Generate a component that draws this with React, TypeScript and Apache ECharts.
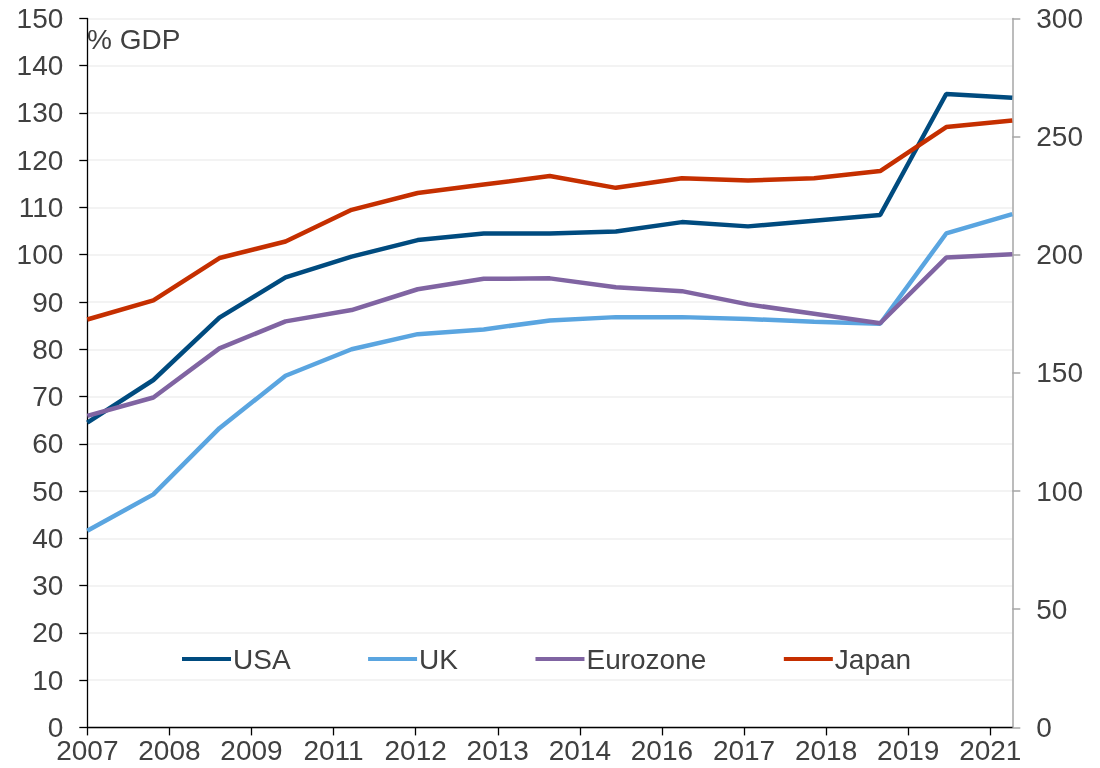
import React, { useEffect, useRef } from "react";
import * as echarts from "echarts";

const years = ["2007", "2008", "2009", "2010", "2011", "2012", "2013", "2014", "2015", "2016", "2017", "2018", "2019", "2020", "2021"];
const tickLabels = ["2007", "2008", "2009", "2011", "2012", "2013", "2014", "2016", "2017", "2018", "2019", "2021"];
const usa = [64.5, 73.5, 86.7, 95.2, 99.6, 103.1, 104.5, 104.5, 104.9, 106.9, 106.0, 107.2, 108.4, 134.0, 133.2];
const uk = [41.6, 49.3, 63.3, 74.4, 80.0, 83.2, 84.2, 86.1, 86.8, 86.8, 86.4, 85.8, 85.4, 104.5, 108.6];
const eurozone = [65.9, 69.8, 80.2, 85.9, 88.3, 92.7, 94.9, 95.0, 93.1, 92.3, 89.5, 87.5, 85.5, 99.4, 100.1];
const japan = [172.6, 180.7, 198.6, 205.6, 219.0, 226.1, 229.7, 233.3, 228.3, 232.4, 231.4, 232.4, 235.4, 254.0, 256.8];

const FONT = "'Liberation Sans', Arial, sans-serif";
const TXT = "#404040";
const FS = 28;

export default function App() {
  const ref = useRef<HTMLDivElement>(null);
  useEffect(() => {
    if (!ref.current) return;
    const chart = echarts.init(ref.current, null, { renderer: "svg" });
    const tickIdx = tickLabels.map((_, i) => i);
    const xMax = 925 / 82.09;
    chart.setOption({
      animation: false,
      textStyle: { fontFamily: FONT },
      grid: { left: 87.3, right: 87.7, top: 18.4, bottom: 40.6, containLabel: false },
      legend: {
        left: 182,
        top: 645,
        padding: 0,
        itemWidth: 49,
        itemHeight: 4,
        itemGap: 77.5,
        icon: "rect",
        textStyle: { fontSize: FS, color: TXT, fontFamily: FONT, padding: [0, 0, 0, -3] },
        data: ["USA", "UK", "Eurozone", "Japan"],
      },
      graphic: [
        {
          type: "text",
          left: 87,
          top: 25,
          style: { text: "% GDP", fontSize: FS, fill: TXT, fontFamily: FONT },
        },
      ],
      xAxis: [
        {
          type: "category",
          data: years,
          boundaryGap: false,
          show: false,
        },
        {
          type: "value",
          position: "bottom",
          min: 0,
          max: xMax,
          interval: 1,
          axisLine: { show: true, lineStyle: { color: "#000", width: 1.3 } },
          axisTick: { show: true, length: 8, lineStyle: { color: "#000", width: 1.3 }, customValues: tickIdx },
          axisLabel: {
            margin: 9,
            fontSize: FS,
            color: TXT,
            fontFamily: FONT,
            customValues: tickIdx,
            formatter: (v: number) => tickLabels[Math.round(v)] ?? "",
          },
          splitLine: { show: false },
        },
      ],
      yAxis: [
        {
          type: "value",
          position: "left",
          min: 0,
          max: 150,
          interval: 10,
          axisLine: { show: true, lineStyle: { color: "#000", width: 1.3 } },
          axisTick: { show: true, length: 8, lineStyle: { color: "#000", width: 1.3 } },
          axisLabel: { margin: 24, fontSize: FS, color: TXT, fontFamily: FONT },
          splitLine: { show: true, lineStyle: { color: "#efefef", width: 1.5 } },
        },
        {
          type: "value",
          position: "right",
          min: 0,
          max: 300,
          interval: 50,
          axisLine: { show: true, lineStyle: { color: "#a6a6a6", width: 1.5 } },
          axisTick: { show: true, length: 8, lineStyle: { color: "#a6a6a6", width: 1.5 } },
          axisLabel: { margin: 24, fontSize: FS, color: TXT, fontFamily: FONT },
          splitLine: { show: false },
        },
      ],
      series: [
        { name: "USA", type: "line", data: usa, color: "#004b7f" },
        { name: "UK", type: "line", data: uk, color: "#5aa5e0" },
        { name: "Eurozone", type: "line", data: eurozone, color: "#8064a2" },
        { name: "Japan", type: "line", data: japan, color: "#c52f00", yAxisIndex: 1 },
      ].map((s) => ({
        ...s,
        xAxisIndex: 0,
        showSymbol: false,
        symbol: "none",
        smooth: false,
        lineStyle: { width: 4.5, color: s.color },
        itemStyle: { color: s.color },
      })),
    });
    return () => chart.dispose();
  }, []);
  return <div ref={ref} style={{ position: "fixed", left: 0, top: 0, width: 1100, height: 768 }} />;
}
